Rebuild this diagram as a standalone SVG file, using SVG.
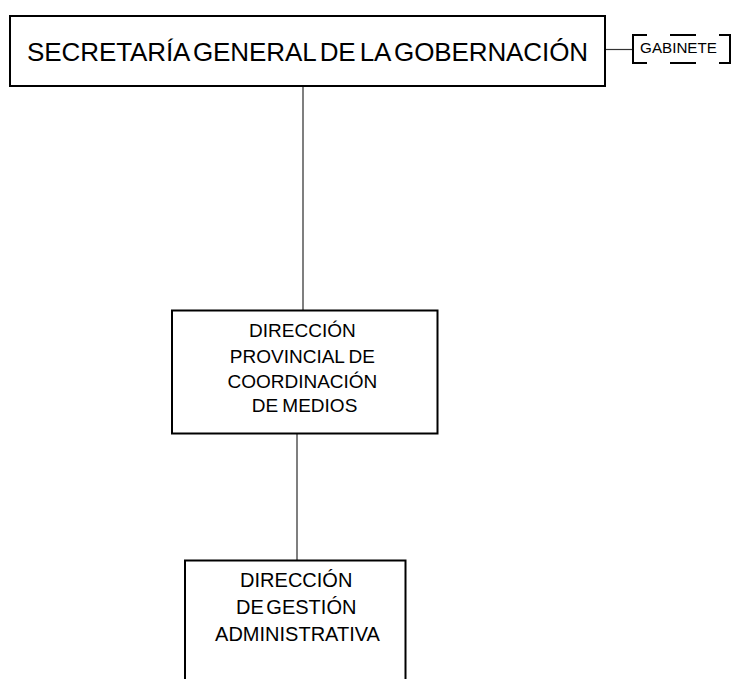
<svg xmlns="http://www.w3.org/2000/svg" width="731" height="679" viewBox="0 0 731 679">
<style>
.box{fill:#fff;stroke:#000;stroke-width:2}
.t{font-family:"Liberation Sans",Arial,sans-serif;fill:#000;text-anchor:middle}
.conn{stroke:#555;stroke-width:1.5;fill:none}
.dash{stroke:#000;stroke-width:2;fill:none}
</style>
<rect width="731" height="679" fill="#fff"/>
<g id="connectors">
<line class="conn" x1="303" y1="86" x2="303" y2="310"/>
<line class="conn" x1="297" y1="434" x2="297" y2="560"/>
<line class="conn" x1="606" y1="49.5" x2="633" y2="49.5" style="stroke:#333;stroke-width:1.2"/>
</g>
<g id="secretaria">
<rect class="box" x="10" y="16" width="595" height="70"/>
<text class="t" x="307.5" y="60.5" font-size="26" letter-spacing="-0.1" word-spacing="-3">SECRETARÍA GENERAL DE LA GOBERNACIÓN</text>
</g>
<g id="gabinete">
<path class="dash" d="M647,35 H633 V63 H647 M670,35 H696 M670,63 H696 M719,35 H730 V63 H719"/>
<text class="t" x="678.5" y="53" font-size="15.2">GABINETE</text>
</g>
<g id="dir-provincial">
<rect class="box" x="172" y="310.5" width="265.5" height="123"/>
<text class="t" font-size="19" word-spacing="-1">
<tspan x="304.5" y="337">DIRECCIÓN</tspan>
<tspan x="304.5" y="362.5">PROVINCIAL DE</tspan>
<tspan x="304.5" y="387.5">COORDINACIÓN</tspan>
<tspan x="304.5" y="412">DE MEDIOS</tspan>
</text>
</g>
<g id="dir-gestion">
<rect class="box" x="185" y="560.5" width="220.5" height="140"/>
<text class="t" font-size="20" word-spacing="-3">
<tspan x="297.5" y="587">DIRECCIÓN</tspan>
<tspan x="297.5" y="614">DE GESTIÓN</tspan>
<tspan x="297.5" y="641">ADMINISTRATIVA</tspan>
</text>
</g>
</svg>
